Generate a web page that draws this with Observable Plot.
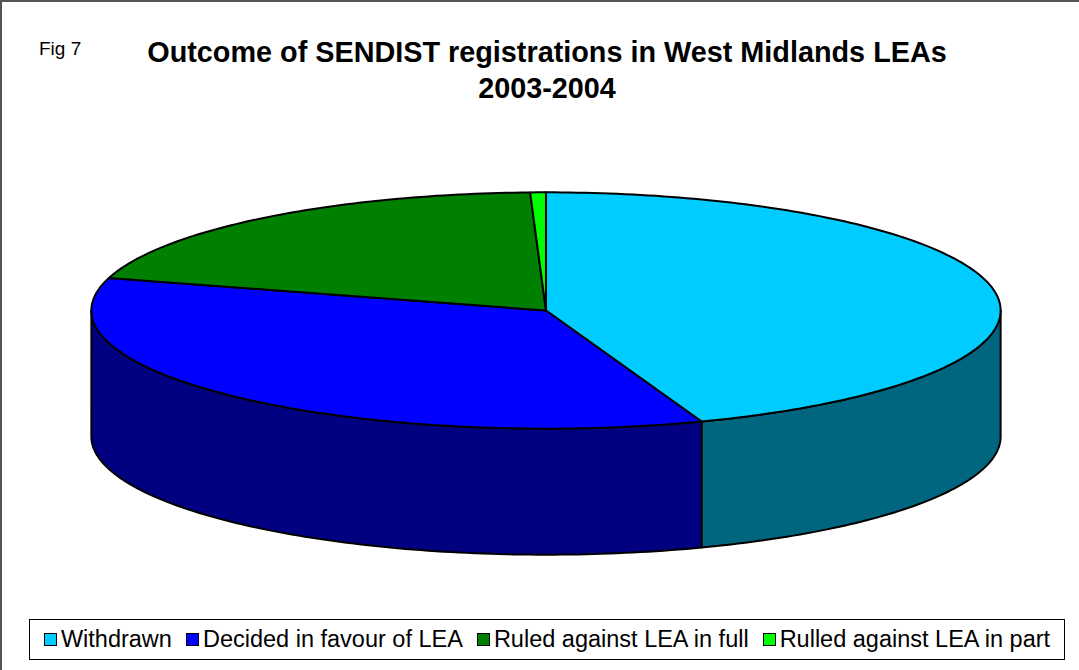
<!DOCTYPE html>
<html>
<head>
<meta charset="utf-8">
<script src="https://cdn.jsdelivr.net/npm/d3@7"></script>
<script src="https://cdn.jsdelivr.net/npm/@observablehq/plot@0.6"></script>
<style>
  html, body { margin: 0; padding: 0; background: #fff; }
  #frame { position: relative; width: 1079px; height: 670px; box-sizing: border-box;
           border: 2px solid #555; border-right: none; border-bottom: none; font-family: "Liberation Sans", Arial, sans-serif; overflow: hidden; }
  #fig { position: absolute; left: 37px; top: 36px; font-size: 19px; color: #000; }
  #title { position: absolute; left: 0; width: 1090px; top: 32px; text-align: center; font-weight: bold;
           font-size: 28.8px; line-height: 36px; color: #000; }
  #chart { position: absolute; left: 0; top: 113px; }
  #legend { position: absolute; left: 27px; top: 617px; width: 1036px; height: 41px; box-sizing: border-box;
            border: 1px solid #000; display: flex; align-items: center; justify-content: center; gap: 14px;
            font-size: 23.5px; color: #000; }
  .item { display: flex; align-items: center; gap: 4px; white-space: nowrap; }
  .sw { width: 11px; height: 11px; border: 1px solid #000; }
</style>
</head>
<body>
<div id="frame">
  <div id="fig">Fig 7</div>
  <div id="title">Outcome of SENDIST registrations in West Midlands LEAs<br>2003-2004</div>
  <div id="chart"></div>
  <div id="legend"></div>
</div>
<script>
// ---- data ----
const categories = ["Withdrawn", "Decided in favour of LEA", "Ruled against LEA in full", "Rulled against LEA in part"];
const values = [80, 63, 36, 1];
const topColors = ["#00CCFF", "#0000FF", "#008000", "#00FF00"];
const sideColors = ["#006680", "#000080", "#004000", "#008000"];

// ---- geometry (in scale units) ----
const A = 456, B = 120, DEPTH = 128;
const total = d3.sum(values);
const rad = d => d * Math.PI / 180;
const pt = (deg, dy = 0) => ({x: A * Math.sin(rad(deg)), y: B * Math.cos(rad(deg)) - dy});

let start = 0;
const slices = values.map((v, i) => {
  const s = start, e = start + v / total * 360;
  start = e;
  return {i, s, e};
});

const arc = (s, e, dy) => {
  const n = Math.max(2, Math.ceil((e - s) / 1));
  return d3.range(n + 1).map(k => pt(s + (e - s) * k / n, dy));
};

const marks = [];
// side walls (front half: 90..270 deg)
for (const sl of slices) {
  const s = Math.max(sl.s, 90), e = Math.min(sl.e, 270);
  if (e <= s) continue;
  const top = arc(s, e, 0);
  const bot = arc(s, e, DEPTH).reverse();
  const poly = [...top, ...bot, top[0]];
  marks.push(Plot.line(poly, {x: "x", y: "y", fill: sideColors[sl.i], stroke: "#000", strokeWidth: 2, strokeLinejoin: "round"}));
}
// top faces
for (const sl of slices) {
  const poly = [{x: 0, y: 0}, ...arc(sl.s, sl.e, 0), {x: 0, y: 0}];
  marks.push(Plot.line(poly, {x: "x", y: "y", fill: topColors[sl.i], stroke: "#000", strokeWidth: 2, strokeLinejoin: "round"}));
}

const chart = Plot.plot({
  width: 1079,
  height: 482,
  marginLeft: 89,
  marginRight: 79,
  marginTop: 77,
  marginBottom: 42,
  x: {domain: [-A, A], axis: null},
  y: {domain: [-B - DEPTH, B], axis: null},
  marks
});
document.getElementById("chart").appendChild(chart);

const legend = document.getElementById("legend");
categories.forEach((c, i) => {
  const it = document.createElement("div");
  it.className = "item";
  it.innerHTML = `<span class="sw" style="background:${topColors[i]}"></span><span>${c}</span>`;
  legend.appendChild(it);
});
</script>
</body>
</html>
